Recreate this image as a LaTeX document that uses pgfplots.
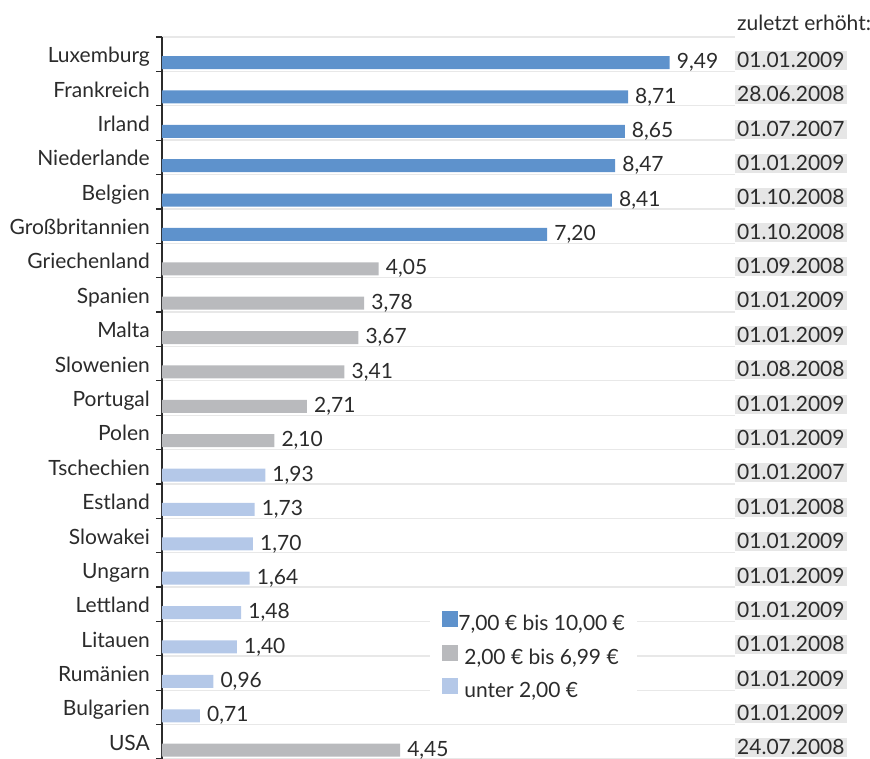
\documentclass[border=0pt]{standalone}
\usepackage{fontspec}
\setmainfont{Lato}
\usepackage{pgfplots}
\usepackage{pgfplotstable}
\pgfplotsset{compat=1.18}
\definecolor{txt}{HTML}{2B2B2B}
\definecolor{cblue}{HTML}{5E92CC}
\definecolor{cgray}{HTML}{B9BABD}
\definecolor{clight}{HTML}{B4C8E8}
\definecolor{cbox}{HTML}{E6E6E6}
\definecolor{cgrid}{HTML}{E8E8E8}

\pgfplotstableread{
y x
0.242 9.49
1.242 8.71
2.242 8.65
3.242 8.47
4.242 8.41
5.242 7.20
}\tblue
\pgfplotstableread{
y x
6.242 4.05
7.242 3.78
8.242 3.67
9.242 3.41
10.242 2.71
11.242 2.10
20.242 4.45
}\tgray
\pgfplotstableread{
y x
12.242 1.93
13.242 1.73
14.242 1.70
15.242 1.64
16.242 1.48
17.242 1.40
18.242 0.96
19.242 0.71
}\tlight
\pgfplotstableread{
x y d
10.71 0.46 01.01.2009
10.71 1.46 28.06.2008
10.71 2.46 01.07.2007
10.71 3.46 01.01.2009
10.71 4.46 01.10.2008
10.71 5.46 01.10.2008
10.71 6.46 01.09.2008
10.71 7.46 01.01.2009
10.71 8.46 01.01.2009
10.71 9.46 01.08.2008
10.71 10.46 01.01.2009
10.71 11.46 01.01.2009
10.71 12.46 01.01.2007
10.71 13.46 01.01.2008
10.71 14.46 01.01.2009
10.71 15.46 01.01.2009
10.71 16.46 01.01.2009
10.71 17.46 01.01.2008
10.71 18.46 01.01.2009
10.71 19.46 01.01.2009
10.71 20.46 24.07.2008
}\tdates

\begin{document}
\begin{tikzpicture}
\begin{axis}[
  scale only axis, width=573pt, height=722pt,
  xmin=0, xmax=10.71, ymin=-0.5, ymax=20.5, y dir=reverse,
  axis x line=none, axis y line*=left,
  y axis line style={draw=txt, line width=1.2pt},
  xtick=\empty,
  ytick={0,...,20},
  yticklabels={Luxemburg,Frankreich,Irland,Niederlande,Belgien,Großbritannien,Griechenland,Spanien,Malta,Slowenien,Portugal,Polen,Tschechien,Estland,Slowakei,Ungarn,Lettland,Litauen,Rumänien,Bulgarien,USA},
  minor ytick={-0.5,0.5,...,20.5},
  major tick length=0pt, minor tick length=6pt, tick align=outside,
  minor tick style={draw=txt, line width=1.2pt},
  yminorgrids=true,
  minor grid style={draw=cgrid, line width=1.3pt},
  yticklabel style={anchor=base east, inner sep=0pt, xshift=-12pt, yshift=-8.5pt, text=txt},
  font=\fontsize{21}{25}\selectfont,
  /pgf/number format/assume math mode=true,
  clip=false,
  legend style={at={(0.468,0.213)}, anchor=north west, draw=none, fill=white,
    inner xsep=12pt, inner ysep=6pt, row sep=8pt, font=\fontsize{21}{25}\selectfont, text=txt,
    nodes={inner sep=0pt, text height=15pt, text depth=6pt}},
  legend cell align=left,
]
\addplot[xbar, bar width=13pt, bar shift=0pt, fill=cblue, draw=none,
  nodes near coords={\pgfmathprintnumber[fixed,fixed zerofill,precision=2,use comma]{\pgfplotspointmeta}},
  nodes near coords style={anchor=west, inner sep=7pt, text=txt},
  area legend, legend image code/.code={\fill[cblue] (0pt,-1pt) rectangle (16pt,15pt);}]
  table[x=x,y=y]{\tblue};
\addlegendentry{7,00 € bis 10,00 €}
\addplot[xbar, bar width=13pt, bar shift=0pt, fill=cgray, draw=none,
  nodes near coords={\pgfmathprintnumber[fixed,fixed zerofill,precision=2,use comma]{\pgfplotspointmeta}},
  nodes near coords style={anchor=west, inner sep=7pt, text=txt},
  area legend, legend image code/.code={\fill[cgray] (0pt,-1pt) rectangle (16pt,15pt);}]
  table[x=x,y=y]{\tgray};
\addlegendentry{\hspace{6pt}2,00 € bis 6,99 €}
\addplot[xbar, bar width=13pt, bar shift=0pt, fill=clight, draw=none,
  nodes near coords={\pgfmathprintnumber[fixed,fixed zerofill,precision=2,use comma]{\pgfplotspointmeta}},
  nodes near coords style={anchor=west, inner sep=7pt, text=txt},
  area legend, legend image code/.code={\fill[clight] (0pt,-1pt) rectangle (16pt,15pt);}]
  table[x=x,y=y]{\tlight};
\addlegendentry{\hspace{6pt}unter 2,00 €}
\addplot[draw=none, mark=none, forget plot, point meta=explicit symbolic,
  nodes near coords,
  nodes near coords style={anchor=south west, fill=cbox, text=txt, inner xsep=2pt, inner ysep=1.5pt, text height=15pt, text depth=1pt}]
  table[x=x,y=y,meta=d]{\tdates};
\node[anchor=base west, text=txt, inner sep=2pt] at (axis cs:10.71,-0.5) [yshift=6pt] {zuletzt erhöht:};
\coordinate (tl) at (axis cs:0,-0.5);
\end{axis}
\pgfresetboundingbox
\path[use as bounding box] (tl) ++(-162pt,37pt) rectangle ++(870pt,-759pt);
\end{tikzpicture}
\end{document}
